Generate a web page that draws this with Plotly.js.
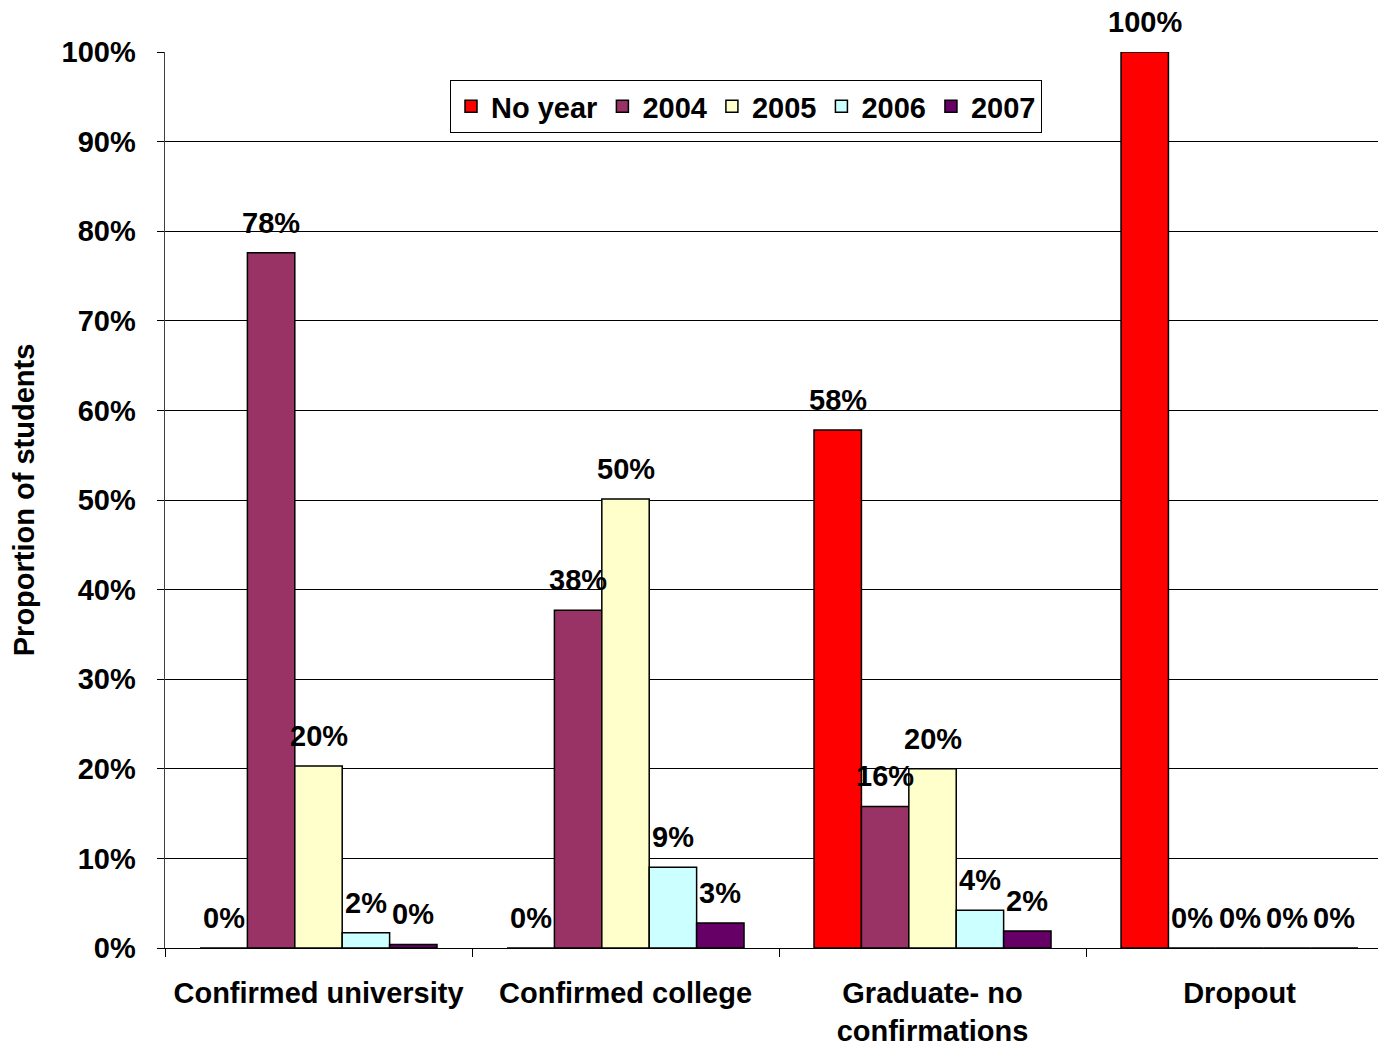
<!DOCTYPE html>
<html>
<head>
<meta charset="utf-8">
<script src="https://cdn.plot.ly/plotly-3.0.1.min.js"></script>
<style>html,body{margin:0;padding:0;background:#fff;}#chart{width:1378px;height:1049px;}</style>
</head>
<body>
<div id="chart"></div>
<script>
const categories = ["Confirmed university", "Confirmed college", "Graduate- no<br>confirmations", "Dropout"];
const seriesNames = ["No year", "2004", "2005", "2006", "2007"];
const noYear = [0, 0, 57.8, 100];
const y2004 = [77.6, 37.7, 15.8, 0];
const y2005 = [20.3, 50.1, 20.0, 0];
const y2006 = [1.7, 9.0, 4.2, 0];
const y2007 = [0.4, 2.8, 1.9, 0];
const seriesColors = ["#FF0000", "#993366", "#FFFFCC", "#CCFFFF", "#660066"];
const yTickVals = [0, 10, 20, 30, 40, 50, 60, 70, 80, 90, 100];

const seriesValues = [noYear, y2004, y2005, y2006, y2007];
const FONT = "Liberation Sans, Arial, sans-serif";
const FS = 29;
const BARGAP = 0.228;

const traces = seriesValues.map((vals, j) => ({
  type: "bar",
  name: seriesNames[j],
  x: categories,
  y: vals,
  marker: {color: seriesColors[j], line: {color: "#000", width: 1.5}},
  hoverinfo: "skip"
}));

const barW = (1 - BARGAP) / seriesValues.length;
const annotations = [];
seriesValues.forEach((vals, j) => {
  vals.forEach((v, i) => {
    annotations.push({
      x: i + (j - (seriesValues.length - 1) / 2) * barW,
      y: v,
      xref: "x", yref: "y",
      text: Math.round(v) + "%",
      showarrow: false,
      yanchor: "middle",
      yshift: 30,
      font: {family: FONT, size: FS, color: "#000", weight: "bold"}
    });
  });
});

const layout = {
  width: 1378, height: 1049,
  margin: {l: 165, r: 0, t: 52, b: 101},
  paper_bgcolor: "#fff", plot_bgcolor: "#fff",
  barmode: "group", bargap: BARGAP, bargroupgap: 0,
  font: {family: FONT, size: FS, color: "#000", weight: "bold"},
  showlegend: true,
  legend: {
    orientation: "h", x: (450 - 165) / 1213, xanchor: "left",
    y: (948 - 80) / 896, yanchor: "top",
    bgcolor: "#fff", bordercolor: "#000", borderwidth: 1,
    font: {family: FONT, size: FS, color: "#000", weight: "bold"},
    itemclick: false, tracegroupgap: 0
  },
  xaxis: {
    type: "category",
    range: [-0.5, 3.451],
    tickson: "boundaries",
    ticks: "outside", ticklen: 8, tickcolor: "#000", tickwidth: 1,
    showline: true, linecolor: "#000", linewidth: 1,
    showgrid: false, zeroline: false,
    tickfont: {family: FONT, size: FS, color: "#000", weight: "bold"},
    ticklabelstandoff: 19,
    automargin: false, fixedrange: true
  },
  yaxis: {
    range: [0, 100],
    tickvals: yTickVals,
    ticktext: yTickVals.map(v => v + "%"),
    ticks: "outside", ticklen: 7, tickcolor: "#000", tickwidth: 1,
    showline: true, linecolor: "#404040", linewidth: 1.5,
    showgrid: true, gridcolor: "#000", gridwidth: 1,
    zeroline: false,
    tickfont: {family: FONT, size: FS, color: "#000", weight: "bold"},
    ticklabelstandoff: 15,
    title: {text: "Proportion of students", standoff: 18,
            font: {family: FONT, size: FS, color: "#000", weight: "bold"}},
    automargin: false, fixedrange: true
  },
  annotations: annotations
};

Plotly.newPlot("chart", traces, layout, {displayModeBar: false, staticPlot: true});
</script>
</body>
</html>
